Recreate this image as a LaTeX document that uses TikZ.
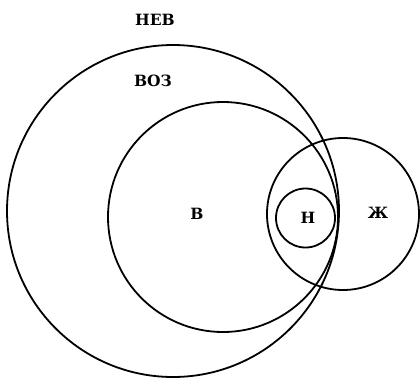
\documentclass[tikz,border=0pt]{standalone}
\usepackage{fontspec}
\setmainfont{DejaVu Serif}
\begin{document}
\begin{tikzpicture}[x=1pt,y=-1pt,
  ring/.style={draw=black,line width=1.8pt},
  lbl/.style={font=\fontsize{15.5}{18}\selectfont\bfseries,inner sep=0pt}]
\useasboundingbox (0,0) rectangle (420,378);
\draw[ring] (173,211) circle (166);
\draw[ring] (223,217) circle (115);
\draw[ring] (343,214) circle (76);
\draw[ring] (305.5,218) circle (29.5);
\node[lbl] (neb) at (155,19.5) {НЕВ};
\node[lbl] (voz) at (153,81) {ВОЗ};
\node[lbl] (b) at (197,213.5) {В};
\node[lbl] (n) at (308,218) {Н};
\node[lbl] (zh) at (378,213) {Ж};
\end{tikzpicture}
\end{document}
